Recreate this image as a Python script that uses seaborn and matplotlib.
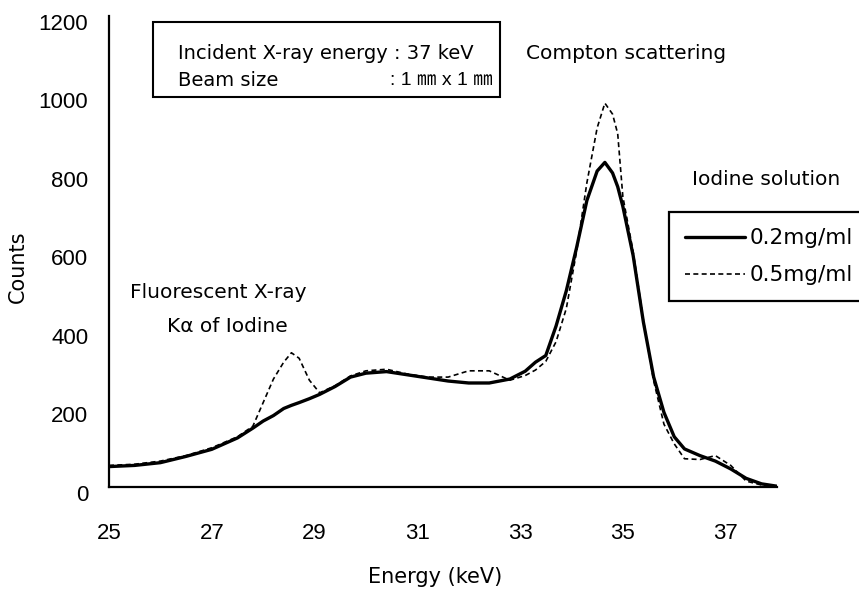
import pandas as pd
import seaborn as sns
import matplotlib.pyplot as plt
from matplotlib.patches import Rectangle
from matplotlib.transforms import ScaledTranslation

# spectrum (energy in keV, counts)
energy = [25.0, 25.5, 26.0, 26.5, 27.0, 27.5, 27.8, 28.0, 28.2, 28.4, 28.55, 28.7,
          28.9, 29.1, 29.4, 29.7, 30.0, 30.4, 30.8, 31.2, 31.6, 32.0, 32.4, 32.8,
          33.1, 33.3, 33.5, 33.7, 33.9, 34.1, 34.3, 34.5, 34.65, 34.8, 34.9, 35.0,
          35.2, 35.4, 35.6, 35.8, 36.0, 36.2, 36.5, 36.8, 37.1, 37.4, 37.7, 38.0]

counts_02 = [52, 55, 62, 78, 96, 125, 150, 168, 182, 200, 208, 215,
             225, 236, 256, 280, 290, 294, 286, 278, 270, 265, 265, 275,
             295, 318, 335, 410, 500, 610, 730, 805, 827, 800, 765, 715,
             590, 420, 280, 190, 128, 97, 80, 66, 46, 22, 8, 2]

counts_05 = [55, 58, 66, 80, 100, 128, 155, 215, 275, 318, 342, 328,
             272, 240, 258, 283, 296, 300, 288, 280, 280, 296, 296, 272,
             284, 298, 320, 370, 455, 600, 775, 915, 978, 950, 900, 740,
             600, 425, 270, 160, 110, 72, 70, 80, 55, 15, 5, 2]

labels = ["0.2mg/ml", "0.5mg/ml"]
x_ticks = [25, 27, 29, 31, 33, 35, 37]
y_ticks = [0, 200, 400, 600, 800, 1000, 1200]

df02 = pd.DataFrame({"energy": energy, "counts": counts_02})
df05 = pd.DataFrame({"energy": energy, "counts": counts_05})

sns.set_style("white")
plt.rcParams['font.family'] = ['DejaVu Sans', 'Noto Sans CJK JP']
plt.rcParams['text.color'] = 'black'
plt.rcParams['axes.labelcolor'] = 'black'

fig = plt.figure(figsize=(8.59, 5.91), dpi=100)
ax = fig.add_axes([109 / 859, 1 - 487 / 591, 668 / 859, 471 / 591])

sns.lineplot(data=df02, x="energy", y="counts", color="black", linewidth=2.4,
             label=labels[0], ax=ax)
sns.lineplot(data=df05, x="energy", y="counts", color="black", linewidth=1.2,
             dashes=False, linestyle=(0, (3, 2)), label=labels[1], ax=ax)

ax.set_xlim(25, 38)
ax.set_ylim(0, 1200)
ax.set_xticks(x_ticks)
ax.set_yticks(y_ticks)

sns.despine(ax=ax)
for side in ["left", "bottom"]:
    ax.spines[side].set_linewidth(1.6)
    ax.spines[side].set_color("black")

ax.tick_params(axis="both", direction="in", length=5, width=1.5, colors="black",
               labelsize=16, labelfontfamily="Liberation Sans")
ax.tick_params(axis="x", pad=26)
ax.tick_params(axis="y", pad=15)
# y labels sit a bit under their ticks in the original
off = ScaledTranslation(0, -4 / 72, fig.dpi_scale_trans)
for lab in ax.get_yticklabels():
    lab.set_transform(lab.get_transform() + off)

ax.set_xlabel("Energy (keV)", fontsize=15)
ax.set_ylabel("Counts", fontsize=15)
ax.xaxis.set_label_coords(0.488, -0.17)
ax.yaxis.set_label_coords(-0.122, 0.467)

# info box
ax.add_patch(Rectangle((0.066, 0.828), 0.519, 0.159, transform=ax.transAxes,
                       fill=False, edgecolor="black", linewidth=1.5, clip_on=False))
ax.text(0.103, 0.921, "Incident X-ray energy : 37 keV", transform=ax.transAxes,
        fontsize=14, va="center", ha="left")
ax.text(0.103, 0.864, "Beam size", transform=ax.transAxes,
        fontsize=14, va="center", ha="left")
ax.text(0.42, 0.864, ": 1 \u339c x 1 \u339c", transform=ax.transAxes,
        family=["Liberation Sans", "Noto Sans CJK JP"], fontsize=14,
        va="center", ha="left")

ax.text(0.774, 0.921, "Compton scattering", transform=ax.transAxes,
        fontsize=14.5, va="center", ha="center")
ax.text(0.983, 0.652, "Iodine solution", transform=ax.transAxes,
        fontsize=14.5, va="center", ha="center", clip_on=False)
ax.text(0.163, 0.412, "Fluorescent X-ray", transform=ax.transAxes,
        fontsize=14.5, va="center", ha="center")
ax.text(0.177, 0.340, "K\u03b1 of Iodine", transform=ax.transAxes,
        fontsize=14.5, va="center", ha="center")

leg = ax.legend(loc="upper left", bbox_to_anchor=(0.838, 0.584), borderaxespad=0,
                frameon=True, fancybox=False, edgecolor="black", fontsize=15.5,
                handlelength=2.8, handletextpad=0.2, labelspacing=0.8,
                borderpad=0.75)
leg.get_frame().set_linewidth(1.6)
leg.get_frame().set_alpha(1)

fig.savefig("out.png", dpi=100)
